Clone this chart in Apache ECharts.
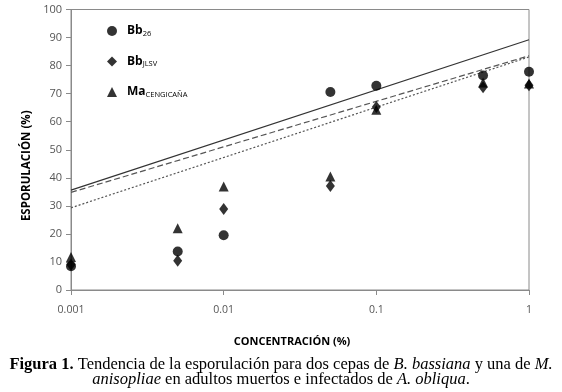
<!DOCTYPE html>
<html>
<head>
<meta charset="utf-8">
<script src="https://cdn.jsdelivr.net/npm/echarts@6/dist/echarts.min.js"></script>
<style>
  html, body { margin: 0; padding: 0; background: #fff; }
  #chart { width: 562px; height: 392px; }
</style>
</head>
<body>
<div id="chart"></div>
<script>
// concentraciones (%) y esporulacion (%)
var conc = [0.001, 0.005, 0.01, 0.05, 0.1, 0.5, 1];
var bb26 = [8.5, 13.7, 19.5, 70.6, 72.8, 76.5, 77.8];
var bbJLSV = [9, 10.4, 28.9, 37.1, 65.2, 72.3, 73];
var maCeng = [11.8, 22, 36.9, 40.5, 64.3, 74, 73.6];

// lineas de tendencia (logaritmicas -> rectas en eje log)
var trendX = [0.001, 1];
var trendBb26 = [35.6, 89.2];
var trendBbJLSV = [34.8, 83.5];
var trendMa = [29.3, 83.1];

var yTicks = [0, 10, 20, 30, 40, 50, 60, 70, 80, 90, 100];

function pairs(xs, ys) {
    var out = [];
    for (var i = 0; i < xs.length; i++) {
        out.push([xs[i], ys[i]]);
    }
    return out;
}

var series = [
    { name: 'Bb26', type: 'scatter', symbol: 'circle', symbolSize: 10, data: pairs(conc, bb26), z: 3 },
    { name: 'BbJLSV', type: 'scatter', symbol: 'diamond', symbolSize: [9, 12], data: pairs(conc, bbJLSV), z: 3 },
    { name: 'MaCENGICAÑA', type: 'scatter', symbol: 'triangle', symbolSize: [10, 10], data: pairs(conc, maCeng), z: 3 }
];
series.forEach(function (s) {
    s.itemStyle = { color: '#000' };
});

var trends = [
    { data: trendBb26, type: 'solid', color: '#333' },
    { data: trendBbJLSV, type: [6, 3], color: '#555' },
    { data: trendMa, type: [2, 2], color: '#555' }
];
trends.forEach(function (t) {
    series.push({
        type: 'line',
        data: pairs(trendX, t.data),
        showSymbol: false,
        silent: true,
        lineStyle: { color: t.color, width: 1.2, type: t.type },
        z: 2
    });
});

var option = {
    backgroundColor: '#fff',
    animation: false,
    grid: {
        left: 71, right: 33, top: 9.5, bottom: 102,
        show: true, borderColor: '#8a8a8a', borderWidth: 1
    },
    legend: {
        orient: 'vertical',
        left: 102,
        top: 20,
        itemWidth: 10,
        itemHeight: 10,
        itemGap: 18,
        data: [
            { name: 'Bb26', icon: 'circle' },
            { name: 'BbJLSV', icon: 'diamond' },
            { name: 'MaCENGICAÑA', icon: 'triangle' }
        ],
        formatter: function (name) {
            if (name === 'Bb26') return '{b|Bb}{s|26}';
            if (name === 'BbJLSV') return '{b|Bb}{s|JLSV}';
            return '{b|Ma}{s|CENGICAÑA}';
        },
        textStyle: {
            padding: [0, 0, 0, 5],
            rich: {
                b: { fontFamily: 'Open Sans', fontWeight: 'bold', fontSize: 12, color: '#000' },
                s: { fontFamily: 'Open Sans', fontSize: 7.5, color: '#000', verticalAlign: 'bottom', padding: [5, 0, 0, 0] }
            }
        }
    },
    xAxis: {
        type: 'log',
        logBase: 10,
        min: 0.001,
        max: 1,
        name: 'CONCENTRACIÓN (%)',
        nameLocation: 'middle',
        nameGap: 46,
        nameTextStyle: { fontFamily: 'Open Sans', fontWeight: 'bold', fontSize: 11, color: '#000', padding: [0, 16, 0, 0] },
        axisLine: { lineStyle: { color: '#8a8a8a' } },
        axisTick: { show: true, length: 5, lineStyle: { color: '#8a8a8a' } },
        minorTick: { show: false },
        splitLine: { show: false },
        axisLabel: { margin: 15, fontFamily: 'Open Sans', fontSize: 10.5, color: '#555' }
    },
    yAxis: {
        type: 'value',
        min: yTicks[0],
        max: yTicks[yTicks.length - 1],
        interval: 10,
        name: 'ESPORULACIÓN (%)',
        nameLocation: 'middle',
        nameGap: 37,
        nameTextStyle: { fontFamily: 'Open Sans', fontWeight: 'bold', fontSize: 11.5, color: '#000', padding: [0, 32, 0, 0] },
        axisLine: { show: true, lineStyle: { color: '#8a8a8a' } },
        axisTick: { show: true, length: 5, lineStyle: { color: '#8a8a8a' } },
        splitLine: { show: false },
        axisLabel: { margin: 9, fontFamily: 'Open Sans', fontSize: 11, color: '#555' }
    },
    title: {
        left: 'center',
        top: 352,
        text: '{fb|Figura 1.} Tendencia de la esporulación para dos cepas de {i|B. bassiana} y una de {i|M.}\n{i|anisopliae} en adultos muertos e infectados de {i|A. obliqua}.',
        textStyle: {
            fontFamily: 'Liberation Serif',
            fontWeight: 'normal',
            fontSize: 16.5,
            lineHeight: 15,
            color: '#000',
            rich: {
                fb: { fontFamily: 'Liberation Serif', fontWeight: 'bold', fontSize: 16.5, lineHeight: 15, color: '#000' },
                i: { fontFamily: 'Liberation Serif', fontStyle: 'italic', fontSize: 16.5, lineHeight: 15, color: '#000' }
            }
        }
    },
    series: series
};

var myChart = echarts.init(document.getElementById('chart'));
myChart.setOption(option);
</script>
</body>
</html>
